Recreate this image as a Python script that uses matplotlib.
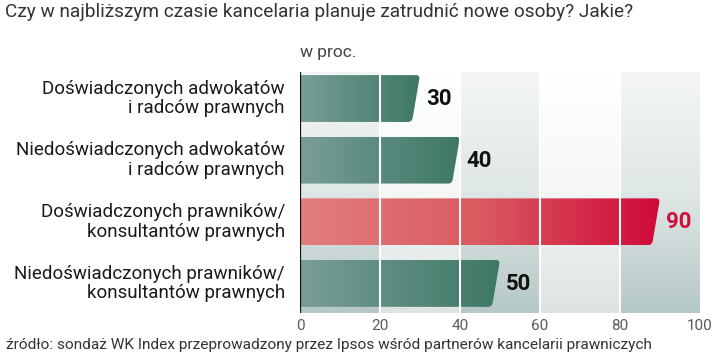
import numpy as np
import matplotlib
matplotlib.use("Agg")
import matplotlib.pyplot as plt
from matplotlib.path import Path
from matplotlib.patches import PathPatch
from matplotlib.colors import LinearSegmentedColormap

# ---- data ----
categories = [
    "Doświadczonych adwokatów\ni radców prawnych",
    "Niedoświadczonych adwokatów\ni radców prawnych",
    "Doświadczonych prawników/\nkonsultantów prawnych",
    "Niedoświadczonych prawników/\nkonsultantów prawnych",
]
values = [30, 40, 90, 50]
highlight = [False, False, True, False]
xticks = [0, 20, 40, 60, 80, 100]
title = "Czy w najbliższym czasie kancelaria planuje zatrudnić nowe osoby? Jakie?"
unit = "w proc."
source = "źródło: sondaż WK Index przeprowadzony przez Ipsos wśród partnerów kancelarii prawniczych"

FONT = ["Roboto", "DejaVu Sans"]

W, H = 721, 357
fig = plt.figure(figsize=(W / 100, H / 100), dpi=100)
ax_l, ax_r, ax_t, ax_b = 300, 700, 72, 313
ax = fig.add_axes([ax_l / W, 1 - ax_b / H, (ax_r - ax_l) / W, (ax_b - ax_t) / H])
ylo, yhi = -0.43, 3.48
ax.set_xlim(0, 100)
ax.set_ylim(yhi, ylo)
ax.axis("off")

# background bands with vertical gradient
dark_cmap = LinearSegmentedColormap.from_list("d", ["#f4f6f6", "#dfe7e6", "#b5c8c6"])
light_cmap = LinearSegmentedColormap.from_list("l", ["#ffffff", "#f5f7f7", "#dde3e3"])
grad_v = np.linspace(0, 1, 256).reshape(-1, 1)
for i in range(5):
    x0, x1 = xticks[i], xticks[i + 1]
    cm = dark_cmap if i % 2 == 0 else light_cmap
    ax.imshow(grad_v, cmap=cm, aspect="auto", extent=[x0, x1, yhi, ylo],
              origin="upper", zorder=0, interpolation="bicubic")

green_cmap = LinearSegmentedColormap.from_list("g", ["#7a9e98", "#5a8a7e", "#3e7865"])
red_cmap = LinearSegmentedColormap.from_list("r", ["#e27f7d", "#da5a60", "#cf0a3a"])
grad_h = np.linspace(0, 1, 256).reshape(1, -1)

bh = 0.76
slant = 2.0
rx, ry = 1.0, 0.07
for i, (v, hl) in enumerate(zip(values, highlight)):
    t, b = i - bh / 2, i + bh / 2
    verts = [
        (0, t),
        (v - rx, t),
        (v, t), (v - slant * ry / bh, t + ry),
        (v - slant + slant * ry / bh, b - ry),
        (v - slant, b), (v - slant - rx, b),
        (0, b),
        (0, t),
    ]
    codes = [Path.MOVETO, Path.LINETO, Path.CURVE3, Path.CURVE3, Path.LINETO,
             Path.CURVE3, Path.CURVE3, Path.LINETO, Path.CLOSEPOLY]
    patch = PathPatch(Path(verts, codes), facecolor="none", edgecolor="none", zorder=2)
    ax.add_patch(patch)
    im = ax.imshow(grad_h, cmap=red_cmap if hl else green_cmap, aspect="auto",
                   extent=[0, v, b, t], zorder=2, interpolation="bicubic")
    im.set_clip_path(patch)
    ax.text(v + 1.5, i + 0.01, str(v), ha="left", va="center", fontsize=16,
            fontweight="bold", family=FONT,
            color="#d0103a" if hl else "#111111", zorder=4)

# white grid lines over bars
for x in xticks[1:-1]:
    ax.plot([x, x], [yhi, ylo], color="white", lw=1.5, zorder=3, solid_capstyle="butt")

# axis line at zero
ax.plot([0, 0], [yhi, ylo], color="#111111", lw=1.6, zorder=5, solid_capstyle="butt")

# tick labels
for x in xticks:
    fig.text((ax_l + x * 4) / W, 1 - 326 / H, str(x), ha="center", va="center",
             fontsize=11, color="#5a5a5a", family=FONT)

# category labels
for i, c in enumerate(categories):
    yc = ax_t + (i - ylo) / (yhi - ylo) * (ax_b - ax_t)
    fig.text(285 / W, 1 - yc / H, c, ha="right", va="center", fontsize=13.5,
             color="#1a1a1a", family=FONT, linespacing=1.12)

fig.text(5 / W, 1 - 12 / H, title, ha="left", va="center", fontsize=13.7,
         color="#333333", family=FONT)
fig.text(300 / W, 1 - 52 / H, unit, ha="left", va="center", fontsize=12.5,
         color="#444444", family=FONT)
fig.text(6 / W, 1 - 345 / H, source, ha="left", va="center", fontsize=11.1,
         color="#333333", family=FONT)

fig.savefig("out.png", dpi=100)
